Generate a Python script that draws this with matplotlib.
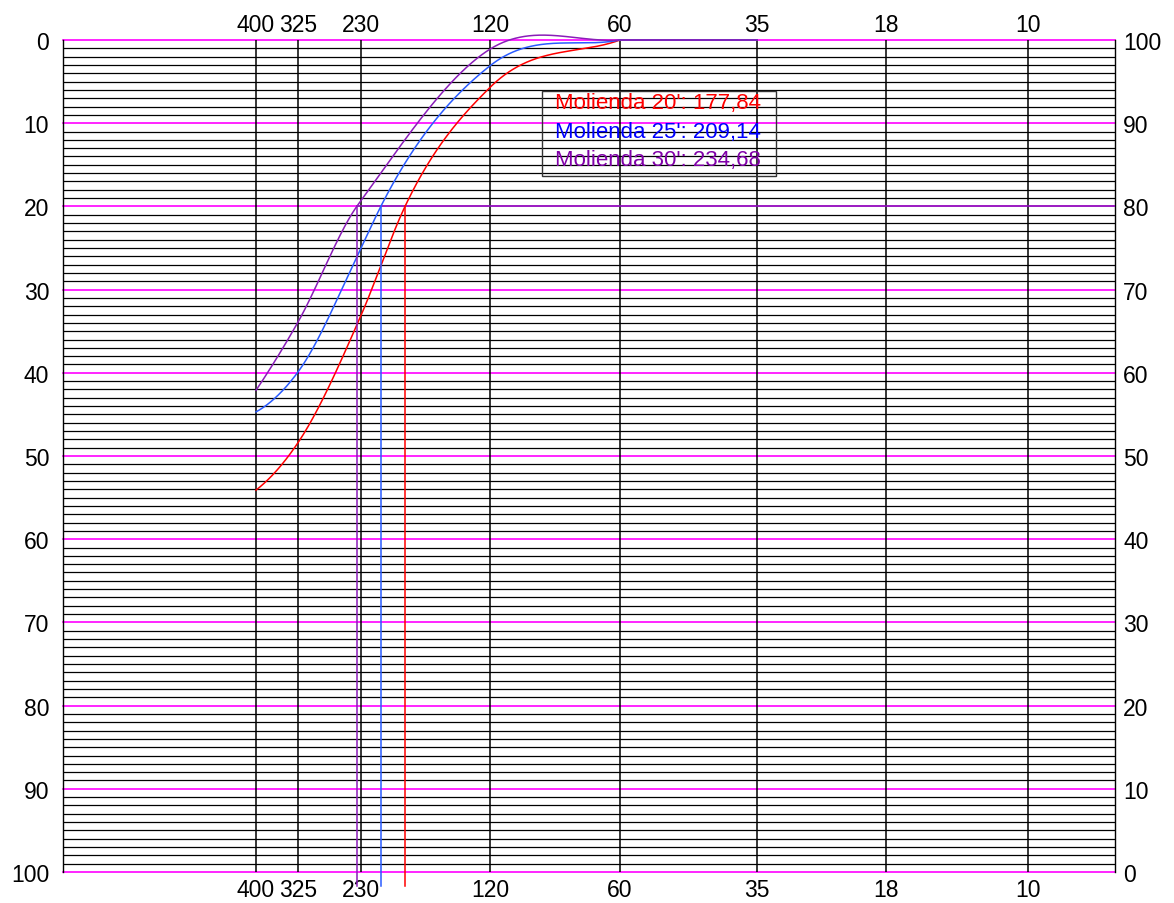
import numpy as np
import matplotlib
matplotlib.use('Agg')
import matplotlib.pyplot as plt
from matplotlib.patches import Rectangle
from matplotlib.ticker import NullLocator, FixedLocator, FixedFormatter

# ---------------- data ----------------
mesh_labels = ['400', '325', '230', '120', '60', '35', '18', '10']
mesh_microns = [37, 45, 63, 125, 250, 500, 1000, 2000]

curve_microns = [37, 45, 63, 125, 250, 500]
red_passing = [45.9, 51.6, 66.9, 94.3, 100, 100]
blue_passing = [55.3, 60.1, 75.0, 96.9, 100, 100]
purple_passing = [57.9, 66.1, 80.7, 98.9, 100, 100]

# where each curve reaches 80 % passing
d80_microns = [79.6, 70.0, 61.6]
target_passing = 80

legend_labels = ["Molienda 20': 177,84", "Molienda 25': 209,14", "Molienda 30': 234,68"]
y_ticks = list(range(0, 101, 10))

# ---------------- layout ----------------
RED = '#FF0000'
BLUE = '#2A5BFF'
PURPLE = '#8A1DB8'
MAGENTA = '#FF00FF'
TXT_BLUE = '#0000FF'
TXT_PURPLE = '#8000A8'

plt.rcParams['font.family'] = ['Liberation Sans', 'DejaVu Sans']

W, H = 1174, 904
L, R, T, B = 63, 1115, 41, 873
# the printed sieve sheet is not a perfect log scale: horizontal pixel of each mesh line
MESH_PX = [256, 298, 361, 490, 620, 757, 886, 1028]
_lg = np.log2(np.array(mesh_microns, float))
ANCH_LOG = np.concatenate([[_lg[0] - (MESH_PX[0] - L) / 133.0], _lg,
                           [_lg[-1] + (R - MESH_PX[-1]) / 133.0]])
ANCH_PX = np.array([L] + MESH_PX + [R], float)
SL_L = (ANCH_PX[1] - ANCH_PX[0]) / (ANCH_LOG[1] - ANCH_LOG[0])
SL_R = (ANCH_PX[-1] - ANCH_PX[-2]) / (ANCH_LOG[-1] - ANCH_LOG[-2])


def fwd(x):
    x = np.asarray(x, float)
    lx = np.log2(np.where(x > 0, x, 1e-9))
    out = np.interp(lx, ANCH_LOG, ANCH_PX)
    out = np.where(lx < ANCH_LOG[0], ANCH_PX[0] + (lx - ANCH_LOG[0]) * SL_L, out)
    out = np.where(lx > ANCH_LOG[-1], ANCH_PX[-1] + (lx - ANCH_LOG[-1]) * SL_R, out)
    return out


def inv(p):
    p = np.asarray(p, float)
    lx = np.interp(p, ANCH_PX, ANCH_LOG)
    lx = np.where(p < ANCH_PX[0], ANCH_LOG[0] + (p - ANCH_PX[0]) / SL_L, lx)
    lx = np.where(p > ANCH_PX[-1], ANCH_LOG[-1] + (p - ANCH_PX[-1]) / SL_R, lx)
    return 2.0 ** lx


def hermite(x, y, xn):
    """Smooth line: three-point tangents inside, chord tangent at the ends."""
    x = np.asarray(x, float)
    y = np.asarray(y, float)
    h = np.diff(x)
    d = np.diff(y) / h
    n = len(x)
    m = np.zeros(n)
    for k in range(1, n - 1):
        m[k] = (h[k] * d[k - 1] + h[k - 1] * d[k]) / (h[k - 1] + h[k])
    m0 = ((2 * h[0] + h[1]) * d[0] - h[0] * d[1]) / (h[0] + h[1])
    m[0] = m0 if np.sign(m0) == np.sign(d[0]) else 0.0
    m[-1] = d[-1]
    idx = np.clip(np.searchsorted(x, xn) - 1, 0, n - 2)
    t = (xn - x[idx]) / h[idx]
    h00 = 2 * t ** 3 - 3 * t ** 2 + 1
    h10 = t ** 3 - 2 * t ** 2 + t
    h01 = -2 * t ** 3 + 3 * t ** 2
    h11 = t ** 3 - t ** 2
    return h00 * y[idx] + h10 * h[idx] * m[idx] + h01 * y[idx + 1] + h11 * h[idx] * m[idx + 1]


fig = plt.figure(figsize=(W / 100, H / 100), dpi=100)
ax = fig.add_axes([L / W, 1 - B / H, (R - L) / W, (B - T) / H])
ax.set_xscale('function', functions=(fwd, inv))
xlim = (float(inv(L)), float(inv(R)))
ax.set_xlim(*xlim)
ax.set_ylim(0, 100)

# horizontal grid
for v in range(0, 101):
    if v % 10 == 0:
        ax.axhline(v, color=MAGENTA, lw=1.2, zorder=2, clip_on=False)
    else:
        ax.axhline(v, color='black', lw=0.9, zorder=1)

# vertical mesh lines
for m in mesh_microns:
    ax.axvline(m, color='black', lw=1.1, zorder=3)

# curves: smooth part up to the first 100 % point, then straight on the 100 % line
series = [(red_passing, RED), (blue_passing, BLUE), (purple_passing, PURPLE)]
for (vals, col), d80 in zip(series, d80_microns):
    vals = np.array(vals, float)
    cm = np.array(curve_microns, float)
    first_full = int(np.argmax(vals >= 100))
    kx = np.concatenate([cm[:first_full + 1], [d80]])
    ky = np.concatenate([vals[:first_full + 1], [target_passing]])
    order = np.argsort(kx)
    px = fwd(kx[order])
    py = ky[order]
    pn = np.linspace(px[0], px[-1], 800)
    yn = hermite(px, py, pn)
    xs = np.concatenate([inv(pn), cm[first_full + 1:]])
    ys = np.concatenate([yn, vals[first_full + 1:]])
    ax.plot(xs, ys, color=col, lw=1.1, zorder=5, clip_on=False)
    ax.plot([d80, d80], [target_passing, -1.7], color=col, lw=1.1, zorder=5, clip_on=False)
    if col == PURPLE:
        ax.plot([d80, xlim[1]], [target_passing, target_passing],
                color=PURPLE, lw=1.2, zorder=4)

# spines
for s in ['top', 'bottom']:
    ax.spines[s].set_visible(False)
for s in ['left', 'right']:
    ax.spines[s].set_color('black')
    ax.spines[s].set_linewidth(1.0)

fs = 16.5
# left axis (retained)
ax.set_yticks(y_ticks)
ax.set_yticklabels([str(100 - v) for v in y_ticks], fontsize=fs)
ax.tick_params(axis='y', length=0, pad=10)
# bottom axis
ax.xaxis.set_major_locator(FixedLocator(mesh_microns))
ax.xaxis.set_major_formatter(FixedFormatter(mesh_labels))
ax.xaxis.set_minor_locator(NullLocator())
ax.tick_params(axis='x', which='both', length=0, pad=4, labelsize=fs)

# right axis (passing)
ax2 = ax.twinx()
ax2.set_ylim(0, 100)
ax2.set_yticks(y_ticks)
ax2.set_yticklabels([str(v) for v in y_ticks], fontsize=fs)
ax2.tick_params(axis='y', length=0, pad=6)
for s in ax2.spines.values():
    s.set_visible(False)

# top axis
ax3 = ax.twiny()
ax3.set_xscale('function', functions=(fwd, inv))
ax3.set_xlim(*xlim)
ax3.xaxis.set_major_locator(FixedLocator(mesh_microns))
ax3.xaxis.set_major_formatter(FixedFormatter(mesh_labels))
ax3.xaxis.set_minor_locator(NullLocator())
ax3.tick_params(axis='x', which='both', length=0, pad=3, labelsize=fs)
for s in ax3.spines.values():
    s.set_visible(False)

# legend box
bx0, by0, bx1, by1 = 542, 92, 776, 177
fig.patches.append(Rectangle((bx0 / W, 1 - by1 / H), (bx1 - bx0) / W, (by1 - by0) / H,
                             transform=fig.transFigure, fill=False, edgecolor='#333333',
                             lw=1.0, zorder=10))
text_cols = [RED, TXT_BLUE, TXT_PURPLE]
for i, (lab, col) in enumerate(zip(legend_labels, text_cols)):
    fig.text(555 / W, 1 - (109.5 + 28.2 * i) / H, lab, color=col, fontsize=16,
             va='baseline', ha='left', zorder=11)

fig.savefig('out.png', dpi=100)
